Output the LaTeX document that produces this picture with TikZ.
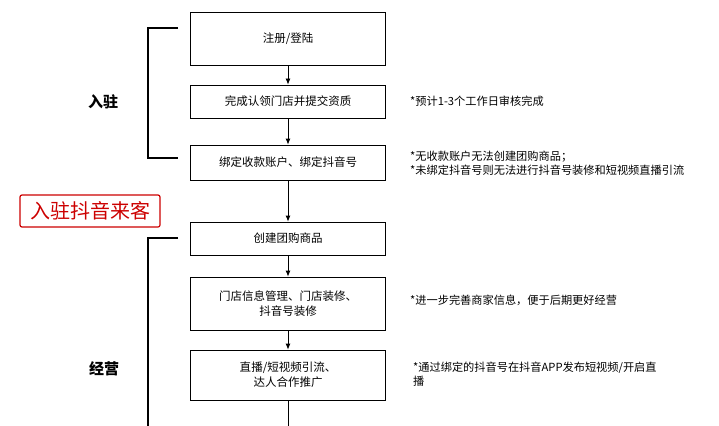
\documentclass[tikz,border=0pt]{standalone}
\usepackage{fontspec}
\setmainfont{Noto Sans CJK SC}
\usetikzlibrary{arrows.meta}
\begin{document}
\begin{tikzpicture}[x=1pt,y=-1pt,
 stepbox/.style={draw=black,line width=0.8pt,minimum width=195pt,align=center,font=\fontsize{11.5}{15}\selectfont,inner sep=2pt},
 note/.style={anchor=west,align=left,font=\fontsize{11.2}{14}\selectfont,inner sep=0pt},
 arr/.style={-{Latex[length=6pt,width=5pt]},line width=0.8pt},
 brk/.style={line width=1.3pt}]
\useasboundingbox (0,0) rectangle (719,425);
\node[stepbox,minimum height=53pt] (b1) at (288,38.5) {注册/登陆};
\node[stepbox,minimum height=33pt] (b2) at (288,101.5) {完成认领门店并提交资质};
\node[stepbox,minimum height=35pt] (b3) at (288,162.5) {绑定收款账户、绑定抖音号};
\node[stepbox,minimum height=33pt] (b4) at (288,238.5) {创建团购商品};
\node[stepbox,minimum height=53pt] (b5) at (288,303.5) {门店信息管理、门店装修、\\抖音号装修};
\node[stepbox,minimum height=50pt] (b6) at (288,375) {直播/短视频引流、\\达人合作推广};
\coordinate (end) at (288,430);
\draw[arr] (b1) -- (b2);
\draw[arr] (b2) -- (b3);
\draw[arr] (b3) -- (b4);
\draw[arr] (b4) -- (b5);
\draw[arr] (b5) -- (b6);
\draw[line width=0.8pt] (b6) -- (end);
\node[note] (n2) at (410,101) {*预计1-3个工作日审核完成};
\node[note] (n3) at (410,163) {*无收款账户无法创建团购商品；\\*未绑定抖音号则无法进行抖音号装修和短视频直播引流};
\node[note] (n5) at (410,300) {*进一步完善商家信息，便于后期更好经营};
\node[note] (n6) at (413,374) {*通过绑定的抖音号在抖音APP发布短视频/开启直\\播};
\draw[brk] (178,28) -- (148,28) -- (148,158) -- (178,158);
\node[font=\bfseries\fontsize{15}{17}\selectfont] (l1) at (103,102) {入驻};
\draw[brk] (178,238) -- (148,238) -- (148,430);
\node[font=\bfseries\fontsize{15}{17}\selectfont] (l2) at (104,369) {经营};
\node[draw=red!80!black,line width=1.2pt,text=red!80!black,rounded corners=2pt,minimum width=140pt,minimum height=32pt,font=\fontsize{20}{22}\selectfont] (title) at (90,211) {入驻抖音来客};
\end{tikzpicture}
\end{document}
